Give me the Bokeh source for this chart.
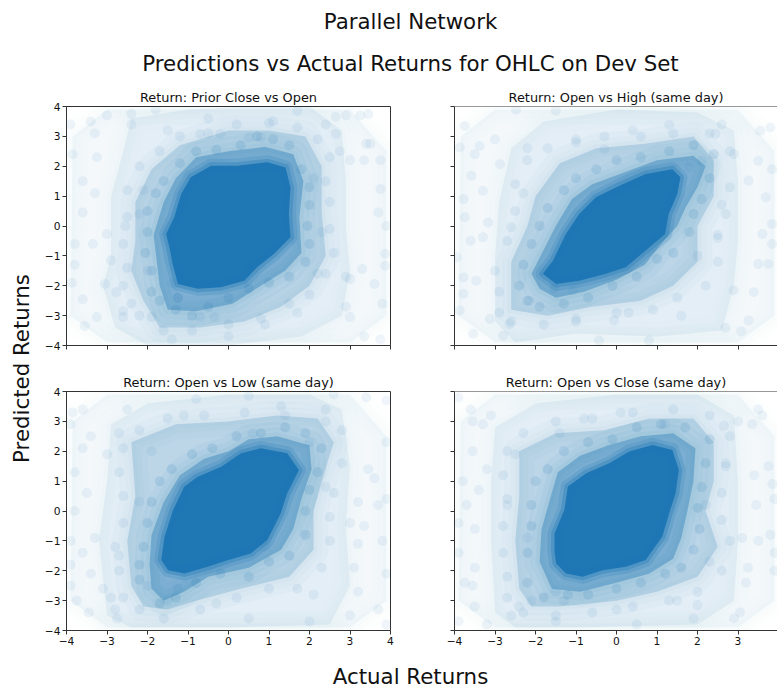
from bokeh.plotting import figure
from bokeh.layouts import column, row
from bokeh.models import Label, Range1d, Span, FixedTicker
from bokeh.embed import file_html
from bokeh.resources import INLINE

FONT = "DejaVu Sans"
BLUE = "#1f77b4"
SUPTITLE = "Parallel Network"
HEADLINE = "Predictions vs Actual Returns for OHLC on Dev Set"
XLABEL = "Actual Returns"
YLABEL = "Predicted Returns"
TICKS = [-4, -3, -2, -1, 0, 1, 2, 3, 4]
TICK_LABELS = ["\u22124", "\u22123", "\u22122", "\u22121", "0", "1", "2", "3", "4"]
TITLES = ["Return: Prior Close vs Open", "Return: Open vs High (same day)",
          "Return: Open vs Low (same day)", "Return: Open vs Close (same day)"]

# density outlines: (actual, predicted)
CORE_1 = [(-1.54,-.27),(-1.34,.29),(-1.17,1.07),(-.93,1.63),(-.43,2.02),(.22,2.02),(.96,2.13),(1.41,1.96),(1.53,1.29),(1.49,.4),(1.53,-.38),(1.12,-.94),(.71,-1.38),(.39,-1.83),(-.19,-2.05),(-.76,-2.1),(-1.25,-1.94),(-1.38,-1.27),(-1.46,-.71)]
DARK_1 = [(-1.85,-.3),(-1.6,.8),(-1.3,1.6),(-.8,2.3),(0,2.5),(.9,2.65),(1.6,2.4),(1.85,1.5),(1.75,.3),(1.8,-.9),(1.4,-1.5),(.8,-2),(.1,-2.6),(-.8,-2.85),(-1.5,-2.8),(-1.7,-2)]
MID_1 = [(-2.3,-.5),(-2.3,.8),(-1.9,1.9),(-1.2,2.7),(0,3.2),(1,3.2),(1.9,3),(2.3,2),(2.3,.5),(2.4,-1),(2,-2),(1.3,-2.7),(.4,-3.2),(-.7,-3.4),(-1.7,-3.4),(-2.1,-2.5),(-2.4,-1.5)]
FAINT_1 = [(-2.9,-1),(-2.9,1),(-2.6,2.5),(-2.4,3.6),(-1,3.9),(.5,4),(2,4),(2.8,3.2),(2.9,1.5),(2.9,0),(3,-1.5),(2.8,-3),(1.8,-3.7),(0,-4),(-2,-4),(-2.8,-3.4),(-3.1,-2)]

CORE_2 = [(-1.82,-1.6),(-1.57,-1.16),(-1.25,-.27),(-.92,.4),(-.51,.96),(.07,1.35),(.72,1.74),(1.38,1.9),(1.58,1.63),(1.5,1.07),(1.29,.4),(1.2,-.27),(.72,-.82),(.23,-1.38),(-.26,-1.6),(-.92,-1.83),(-1.49,-1.94)]
DARK_2 = [(-2.1,-1.6),(-1.8,-.8),(-1.5,0),(-1.1,.9),(-.6,1.4),(.2,1.8),(1,2.2),(1.9,2.35),(2.2,2),(2,1.3),(1.7,.6),(1.5,0),(1.1,-.6),(.7,-1.3),(0,-1.8),(-.8,-2.2),(-1.5,-2.4),(-1.9,-2.1)]
MID_2 = [(-2.6,-2.8),(-2.6,-1.2),(-2.2,0),(-2,1),(-1.4,2.1),(-.5,2.6),(.7,2.75),(1.9,3),(2.4,2.2),(2.4,1),(2,0),(2,-1.2),(1.4,-2),(.6,-2.5),(-.6,-2.7),(-1.7,-3)]
FAINT_2 = [(-3,-3.2),(-3,-1),(-2.9,.8),(-2.6,2.6),(-1.8,3.5),(0,3.9),(2,3.8),(2.9,3.2),(3,1.5),(3,-.5),(2.9,-2),(2.6,-3.5),(1,-3.7),(-1,-3.6),(-2.5,-3.9)]

CORE_3 = [(-1.66,-1.64),(-1.58,-.86),(-1.37,.03),(-1.09,.82),(-.76,1.15),(-.18,1.48),(.31,1.93),(.8,2.1),(1.45,1.93),(1.74,1.37),(1.45,.59),(1.29,-.08),(.96,-.97),(.55,-1.42),(0,-1.64),(-.51,-1.87),(-1.09,-2.09),(-1.49,-1.98)]
DARK_3 = [(-1.95,-1.8),(-1.9,-.8),(-1.6,.3),(-1.2,1.2),(-.6,1.75),(0,2),(.5,2.4),(1.2,2.5),(2,2.2),(2.05,1.4),(1.8,.4),(1.6,-.6),(1.3,-1.3),(.5,-1.9),(-.5,-2.2),(-1.1,-2.7),(-1.6,-3),(-1.9,-2.6)]
MID_3 = [(-2.4,-2.5),(-2.5,-1),(-2.3,.5),(-2.4,2.3),(-1.3,2.9),(0,3),(1.2,3.2),(2.2,3.1),(2.6,2.3),(2.3,1),(2.1,0),(2.1,-1.3),(1.5,-2.2),(.3,-2.6),(-.8,-3),(-1.5,-3.3),(-2.1,-3.2)]
FAINT_3 = [(-3,-3.5),(-3.2,-1),(-3,1),(-2.9,2.9),(-2,3.6),(0,3.9),(2,3.9),(2.8,3.4),(3,1.5),(2.9,-.5),(3,-2.5),(2.5,-3.8),(0,-3.9),(-2.4,-3.9)]

CORE_4 = [(-1.53,-1.36),(-1.53,-.75),(-1.29,.03),(-1.2,.82),(-.75,1.26),(-.18,1.6),(.31,1.99),(.89,2.21),(1.38,2.04),(1.54,1.37),(1.46,.59),(1.3,-.08),(1.13,-.86),(.72,-1.64),(.23,-1.87),(-.34,-1.98),(-.84,-2.2),(-1.25,-2.09),(-1.49,-1.76)]
DARK_4 = [(-1.9,-1.7),(-1.85,-.6),(-1.6,.6),(-1.45,1.3),(-.9,1.85),(-.2,2.2),(.6,2.5),(1.4,2.6),(1.95,2.1),(1.9,1),(1.75,0),(1.6,-.9),(1.4,-1.6),(.8,-2.1),(0,-2.4),(-.9,-2.7),(-1.6,-2.6)]
MID_4 = [(-2.4,-2.6),(-2.5,-1),(-2.4,.5),(-2.4,2),(-1.5,2.6),(-.3,2.7),(.8,3.1),(1.9,3.1),(2.4,2.3),(2.4,1),(2.2,0),(2.5,-1.2),(2,-2.2),(1,-2.7),(0,-3),(-1.4,-3.2),(-2.1,-3.2)]
FAINT_4 = [(-3,-3.4),(-3.1,-1),(-3.1,1),(-3,2.8),(-2,3.6),(0,3.9),(2,3.9),(2.9,3.2),(3,1),(3,-1),(2.9,-3),(2,-3.8),(-1,-3.9),(-2.5,-3.9)]

SPARSE = [(-3.9,-3),(-3.85,3),(-3,3.9),(3,3.9),(3.9,2.5),(3.9,-3),(3,-3.9),(-3,-3.9)]

# individually legible points
PTS_1 = [(-3.85,2.4),(-3.3,3.1),(-3.25,2.3),(-3.6,1.5),(-3.6,.45),(-3.8,-.6),(-3.87,-1.9),(-3.6,-2.45),(-3.25,-3.05),(-3.55,-3.35),(-3.8,-1.3),(-3.35,-.6),(-3,-.27),(-2.55,0),(-2.77,-2.22),(-3.05,-1.94),(-2.9,-1.15),(-3.3,1.1),(3.3,-1.44),(2.9,-1.7),(3,-1.77),(3.6,-1.94),(2.9,-2.7),(3,-3.05),(3.8,-2.6),(3.75,-3.8),(3.35,-3.7),(3.87,-.93),(3.87,-1.33),(3.9,0),(3.7,.45),(3.75,1.24),(3.75,2.2),(3.4,2.75),(3.5,2.75),(2.9,3.7),(3.25,3.7),(3.45,3.75),(2.65,3.65),(1.7,3.85),(2.65,3.08),(2.75,2.5),(3,2.2),(3.35,2.2),(.8,2.96),(.5,2.96),(-.2,3.08),(-.7,3.08),(-1.5,3.2),(-2.4,3.4),(-2.4,3.75),(-1.8,3.9),(-3,3.7),(-3.4,3.5),(-3.9,3.4),(-1.25,-2.4),(-1.4,-1.9),(-.7,-3.05),(-.35,-3.05),(-1.9,-3.05),(-2.6,-3.05),(-2.6,-2.85),(-2,-1.5),(-2.2,.4),(-2.1,1.2),(2.1,1.6),(2.3,-.2),(2.2,-1.6),(1.7,-2.9),(.9,-3.3),(0,-3.7),(-1.4,-3.8),(2.4,3.4),(-.5,3.6),(1.1,3.5)]
PTS_2 = [(-3.75,3.35),(-3,2.9),(-3.5,2.4),(-3.38,2.68),(-3.87,2.63),(-2.88,2.07),(-3.58,1.68),(-3.3,1.18),(-3.78,.9),(-3.75,.29),(-2.6,-.04),(-3.17,.12),(-3.3,-.38),(-3.6,-.49),(-3.95,-1.05),(-3.78,-1.72),(-3.78,-2.27),(-3.46,-1.83),(-3.87,-2.83),(-3.13,-3.11),(-2.8,-3.67),(-3.54,-3.61),(-2.64,-3.28),(-2.15,-2.5),(-1.53,-2.1),(-1.08,-2.16),(-.06,-3.16),(-.43,-3.83),(.8,-3.83),(2.69,-3.41),(3.08,-3.52),(3.26,-3.16),(3.39,-2.22),(2.89,-2.16),(3.5,-1.27),(3.75,-1.27),(3.84,-.6),(3.6,-.27),(3.84,.07),(3.69,.96),(3.26,1.52),(3.5,2.18),(3.84,1.9),(3.55,3.19),(3.8,3.3),(2.44,3.08),(2.6,3.4),(1.3,3.4),(-.3,2.57),(-1.5,3.86),(-2.48,3.9),(1.79,1.96),(2.11,2.18),(2,-1),(1.6,-3),(.3,-2.9),(-1,-3.1),(2.5,-.4),(2.6,.7),(-2.3,1.1),(-2.2,2.6),(-1,2.9),(.4,3.2),(2.9,2.4)]
PTS_3 = [(-3.85,3.3),(-3.6,3.4),(-3.9,2.9),(-3.4,2.5),(-3.6,2.1),(-3.8,1.3),(-3.5,.6),(-3.8,0),(-3.9,-1),(-3.3,-.9),(-3.6,-1.4),(-3.9,-1.8),(-3.4,-2.1),(-3.9,-2.5),(-3.75,-3),(-3.45,-3.4),(-2.9,-2.9),(-2.8,-3.3),(-2.75,-3.6),(-3.1,-2.6),(-2.7,-1.5),(-3,1.9),(-2.7,2.6),(-2.5,3.4),(-1.1,3.2),(-.8,3.75),(.5,3.85),(2.6,3.9),(3.4,3.8),(3.9,3.7),(3.9,2.3),(3.6,1.1),(3.45,1.4),(3.2,.3),(3.7,.2),(3.9,.4),(3,-.4),(3.35,-.5),(3.8,-1),(3.2,-1.1),(3.9,-2.1),(3.1,-1.9),(3.2,-2.7),(3,-3.5),(3.7,-3.3),(3.9,-3.8),(2,-3.7),(.5,-3.6),(-1.5,-3),(-1.25,-2.6),(-2,-2.5),(-1.9,2),(.6,2.6),(1.4,3.2),(2,2.3),(2.4,3),(2.1,-2.8),(.9,-1.2),(-2.2,.3),(2.4,.8),(-.3,-3.1)]
PTS_4 = [(-3.9,3.8),(-3.6,3.4),(-3.1,3.2),(-3.55,3),(-3.3,2.9),(-3.8,1),(-3.55,2),(-3.2,1.4),(-3.4,.7),(-3.7,.2),(-3.9,-.4),(-3.5,-.6),(-3.9,-1.4),(-3.5,-1.9),(-3.75,-2.4),(-3.55,-2.5),(-3.5,-3.2),(-3.9,-3.7),(-3.2,-3.8),(-2.6,-3.5),(-2.4,-3.2),(-2.5,1.9),(-1.4,2.6),(-.8,3.1),(3.6,3.2),(3.5,3.4),(3.35,2.9),(3,3),(2.65,2.85),(3.75,1.5),(3.85,.9),(3.4,1.2),(3.9,.4),(3.45,.2),(3.8,-.8),(3.5,-1),(3.1,-.9),(3.9,-1.4),(3.25,-1.9),(3.9,-2),(3.2,-2.4),(3.05,-3.4),(2,-3.15),(1.5,-3),(2.9,-3.6),(.5,-3.8),(-1.5,-3.7),(-2.1,-3),(1.9,-3.6),(-2.2,-.9),(2.3,-1.7),(-1.5,-2.7),(-1.3,-3),(0,-3.3),(1.2,2.9),(.1,3.3),(2.7,1.6),(-2.7,.2),(2.2,.2)]

# darker clumps near the dense middle and further out
NEAR_1 = [(-1.25,-2.4),(-1.7,-2.5),(-1.3,-2.8),(-.9,-3),(-.5,-2.7),(0,-2.4),(.5,-2.1),(1,-1.9),(1.5,-1.7),(1.9,-1.2),(2,-.6),(1.95,0),(2,.7),(2,1.3),(1.8,1.9),(1.5,2.7),(1.1,2.9),(.7,3),(.3,2.7),(-.3,2.55),(-.8,2.5),(-1.2,2.1),(-1.6,1.5),(-1.8,1.1),(-2,.5),(-2,-.2),(-2.05,-.9),(-1.9,-1.5),(-1.9,-2.2)]
FAR_1 = [(-2.4,-2.6),(-2.2,-3),(-1.6,-3.5),(-.9,-3.5),(0,-3.3),(.8,-3.1),(1.5,-2.6),(2,-2.3),(2.4,-1.6),(2.6,-.9),(2.5,-.1),(2.5,.8),(2.4,1.5),(2.5,2.3),(2.2,2.9),(1.7,3.3),(1,3.45),(.2,3.4),(-.5,3.1),(-1.2,3),(-1.7,2.5),(-2.2,2),(-2.5,1.2),(-2.5,.3),(-2.6,-.6),(-2.5,-1.4),(-2.6,-2)]
NEAR_2 = [(-2.2,-2.5),(-1.9,-2.7),(-1.3,-2.6),(-.7,-2.4),(-.1,-2),(.5,-1.7),(1,-1.1),(1.4,-.9),(1.8,-.2),(1.9,.4),(2.1,.9),(2.3,1.6),(2.4,2.4),(1.9,2.7),(1.3,2.5),(.6,2.3),(0,2.2),(-.5,1.9),(-1,1.6),(-1.3,1.2),(-1.7,.6),(-1.9,0),(-2.1,-.6),(-2.3,-1.3),(-2.4,-2)]
FAR_2 = [(-2.9,-2.9),(-2.6,-3.2),(-1.8,-3.3),(-1,-3.2),(0,-2.9),(.9,-2.8),(1.5,-2.4),(2.2,-2),(2.5,-1.2),(2.5,-.3),(2.7,.4),(2.8,1.3),(2.8,2.5),(2.3,3.1),(1.4,3.1),(.6,3),(-.3,3),(-1,2.8),(-1.7,2.6),(-2.2,2.2),(-2.5,1.4),(-2.5,.5),(-2.7,-.5),(-3,-1.5),(-2.9,-2.2)]
NEAR_3 = [(-2.2,-2.3),(-1.7,-3.1),(-1.3,-2.9),(-.8,-2.4),(-.2,-2.1),(.5,-2.2),(1,-1.7),(1.5,-1.5),(1.9,-.8),(1.9,0),(2,.7),(2.2,1.3),(2.3,2.1),(1.9,2.6),(1.4,2.8),(.8,2.6),(.2,2.5),(-.4,2.1),(-.9,1.9),(-1.4,1.4),(-1.7,1),(-1.9,.3),(-2,-.4),(-2.1,-1.2),(-2.2,-1.8)]
FAR_3 = [(-2.6,-2.9),(-2.2,-3.3),(-1.6,-3.6),(-.7,-3.3),(.2,-2.9),(1,-2.6),(1.7,-2.6),(2.3,-1.9),(2.5,-1),(2.5,-.2),(2.6,.6),(2.8,1.6),(2.8,2.7),(2.4,3.4),(1.3,3.5),(.4,3.3),(-.6,3.2),(-1.5,3.1),(-2.2,2.7),(-2.6,2.1),(-2.7,1.3),(-2.6,.5),(-2.6,-.4),(-2.8,-1.2),(-2.7,-2)]
NEAR_4 = [(-2.2,-2.4),(-1.8,-2.9),(-1.2,-2.8),(-.7,-2.8),(0,-2.6),(.6,-2.4),(1.2,-2.1),(1.6,-1.9),(1.9,-1.3),(2.05,-.6),(2,.1),(2.1,.8),(2.2,1.6),(2.3,2.4),(1.7,2.8),(1.1,2.9),(.5,2.8),(-.1,2.4),(-.7,2.3),(-1.3,2),(-1.7,1.4),(-2,1),(-2.1,.2),(-2.1,-.5),(-2.2,-1.4)]
FAR_4 = [(-2.7,-2.9),(-2.3,-3.4),(-1.5,-3.5),(-.6,-3.4),(.4,-3.2),(1.3,-3),(2,-2.7),(2.6,-2),(2.8,-1),(2.6,-.3),(2.6,.6),(2.7,1.5),(2.8,2.5),(2.3,3.2),(1.4,3.4),(.4,3.3),(-.6,3.1),(-1.5,3),(-2.3,2.6),(-2.7,2),(-2.8,1.2),(-2.7,.4),(-2.8,-.5),(-2.8,-1.4),(-2.7,-2.2)]

PANELS = [(CORE_1, DARK_1, MID_1, FAINT_1, PTS_1, NEAR_1, FAR_1), (CORE_2, DARK_2, MID_2, FAINT_2, PTS_2, NEAR_2, FAR_2),
          (CORE_3, DARK_3, MID_3, FAINT_3, PTS_3, NEAR_3, FAR_3), (CORE_4, DARK_4, MID_4, FAINT_4, PTS_4, NEAR_4, FAR_4)]


def xy(pairs):
    return [a for a, _ in pairs], [b for _, b in pairs]


def panel(i, w, h, left, right, top, bottom, xend):
    core, dark, mid, faint, pts, near, far = PANELS[i]
    p = figure(width=w, height=h, output_backend="svg", toolbar_location=None,
               x_range=Range1d(-4, xend), y_range=Range1d(-4, 4),
               min_border_left=left, min_border_right=right, min_border_top=top, min_border_bottom=bottom,
               title=TITLES[i], title_location="above")
    p.title.text_font = FONT
    p.title.text_font_size = "12.9px"
    p.title.text_font_style = "normal"
    p.title.text_color = "#111111"
    p.title.align = "center"
    p.title.standoff = 3
    p.title.offset = 0
    p.grid.visible = False
    overrides = dict(zip(TICKS, TICK_LABELS))
    blanks = {t: "" for t in TICKS}
    for ax in (p.xaxis[0], p.yaxis[0]):
        ax.ticker = FixedTicker(ticks=TICKS)
        ax.minor_tick_line_color = None
        ax.major_tick_in = 0
        ax.major_tick_out = 4
        ax.major_label_standoff = 2
        ax.major_label_overrides = overrides
        ax.major_label_text_font = FONT
        ax.major_label_text_font_size = "10.67px"
        ax.major_label_text_color = "#111111"
        ax.axis_line_color = "#333333"
        ax.major_tick_line_color = "#333333"
    p.yaxis[0].major_label_orientation = "horizontal"
    if i < 2:
        p.xaxis[0].major_label_overrides = blanks
    if i % 2:
        p.yaxis[0].major_label_overrides = blanks
        p.outline_line_color = None
        p.add_layout(Span(location=4, dimension="width", line_color="#333333", line_width=1))
    else:
        p.outline_line_color = "#333333"

    levels = [(SPARSE, .05), (faint, .07), (mid, .2), (dark, .38)]
    for shape, alpha in levels:
        a, b = xy(shape)
        p.patch(a, b, fill_color=BLUE, fill_alpha=alpha, line_color=None)
        for width in (30, 18, 8):
            p.patch(a, b, fill_alpha=0, line_color=BLUE, line_alpha=alpha * .12, line_width=width, line_join="round")
    for pairs, alpha in ((pts, .07), (far, .08), (near, .13)):
        a, b = xy(pairs)
        p.scatter(a, b, size=10, fill_color=BLUE, fill_alpha=alpha, line_color=None)
    a, b = xy(core)
    p.patch(a, b, fill_color=BLUE, fill_alpha=1, line_color=None)
    for width, alpha in ((14, .2), (7, .35)):
        p.patch(a, b, fill_alpha=0, line_color=BLUE, line_alpha=alpha, line_width=width, line_join="round")
    return p


def blank(w, h):
    p = figure(width=w, height=h, output_backend="svg", toolbar_location=None,
               x_range=Range1d(0, w), y_range=Range1d(h, 0),
               min_border=0, x_axis_location=None, y_axis_location=None)
    p.grid.visible = False
    p.outline_line_color = None
    return p


def caption(p, x, y, text, size, angle=0):
    p.add_layout(Label(x=x, y=y, text=text, text_font=FONT, text_font_size=size, text_color="#111111",
                       text_align="center", text_baseline="middle", angle=angle, angle_units="deg"))


header = blank(777, 86)
caption(header, 410, 21, SUPTITLE, "21.33px")
caption(header, 410, 63, HEADLINE, "21.33px")

strip = blank(41, 569)
caption(strip, 21, 282, YLABEL, "21.33px", 90)

footer = blank(777, 33)
caption(footer, 410, 21, XLABEL, "21.33px")

p1 = panel(0, 25 + 324 + 32, 274, 25, 32, 20, 15, 4)
p2 = panel(1, 32 + 323, 274, 32, 0, 20, 15, 3.975)
p3 = panel(2, 25 + 324 + 32, 295, 25, 32, 31, 25, 4)
p4 = panel(3, 32 + 323, 295, 32, 0, 31, 25, 3.975)
p4.add_layout(Label(x=4, y=-4, y_offset=-7, text=TICK_LABELS[-1], text_font=FONT, text_font_size="10.67px",
                    text_color="#111111", text_align="center", text_baseline="top"))

page = column(header, row(strip, column(row(p1, p2), row(p3, p4))), footer)
open("out.html", "w").write(file_html(page, INLINE))
